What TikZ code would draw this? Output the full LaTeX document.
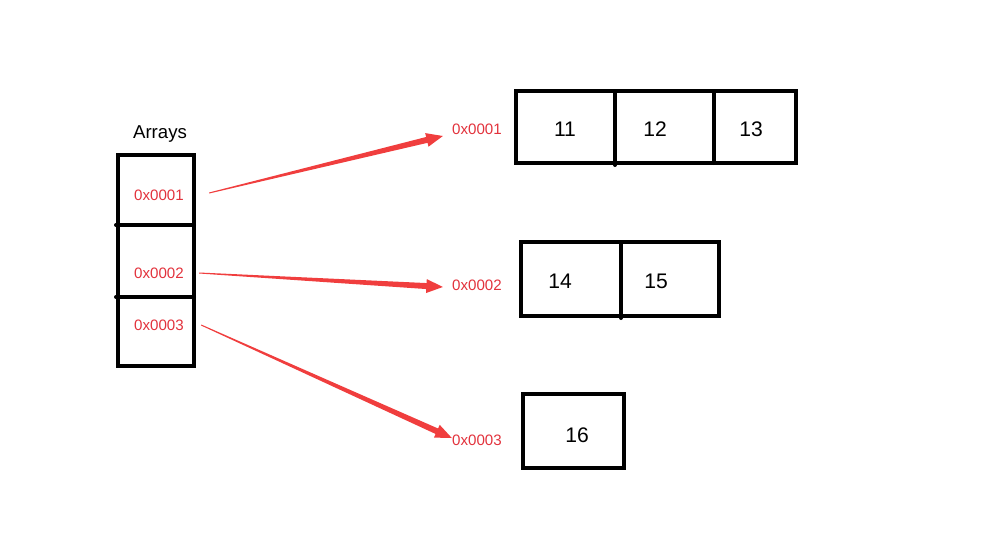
\documentclass[tikz,border=0pt]{standalone}
\usepackage{fontspec}
\setmainfont{Liberation Sans}
\usetikzlibrary{calc}
\definecolor{ptrred}{RGB}{240,62,62}
\definecolor{addrred}{RGB}{226,50,60}
\tikzset{
  box/.style={line width=0.08cm, line cap=round},
  addr/.style={text=addrred, font=\fontsize{8.6}{10}\selectfont, inner sep=0pt},
  val/.style={font=\fontsize{12}{14}\selectfont, inner sep=0pt}
}
% tapered arrow from #1 to #2
\def\taperarrow(#1)(#2){
  \coordinate (h) at ($(#2)!0.33cm!(#1)$);
  \fill[ptrred] ($(#1)!0.01cm!90:(#2)$) -- ($(h)!0.06cm!90:(#2)$) -- ($(h)!0.14cm!90:(#2)$) -- (#2)
     -- ($(h)!0.14cm!-90:(#2)$) -- ($(h)!0.06cm!-90:(#2)$) -- ($(#1)!0.01cm!-90:(#2)$) -- cycle;
}

\begin{document}
\begin{tikzpicture}[x=0.02cm, y=-0.02cm]
  \useasboundingbox (0,0) rectangle (983,544);

  %%%%% pointer array %%%%%
  \node[font=\fontsize{10.6}{12}\selectfont] (title) at (160,134) {Arrays};
  \draw[box] (118,155) rectangle (194,366);
  \draw[box] (116,225) -- (194,225);
  \draw[box] (116,297) -- (194,297);
  \node[addr] (p1) at (159,195) {0x0001};
  \node[addr] (p2) at (159,273) {0x0002};
  \node[addr] (p3) at (159,325) {0x0003};

  %%%%% target arrays %%%%%
  \node[addr] (q1) at (477,129) {0x0001};
  \node[addr] (q2) at (477,285) {0x0002};
  \node[addr] (q3) at (477,440) {0x0003};

  \draw[box] (516,91) rectangle (796,163);
  \draw[box] (615,91) -- (615,165);
  \draw[box] (714,91) -- (714,163);
  \node[val] (v11) at (565,129) {11};
  \node[val] (v12) at (655,129) {12};
  \node[val] (v13) at (751,129) {13};

  \draw[box] (521,242) rectangle (719,316);
  \draw[box] (621,242) -- (621,318);
  \node[val] (v14) at (560,281) {14};
  \node[val] (v15) at (656,281) {15};

  \draw[box] (523,394) rectangle (624,468);
  \node[val] (v16) at (577,435) {16};

  %%%%% pointers %%%%%
  \coordinate (s1) at ($(p1.east)+(25,-2)$);
  \coordinate (s2) at ($(p2.east)+(15,0)$);
  \coordinate (s3) at ($(p3.east)+(17,0)$);
  \coordinate (e1) at ($(q1.west)+(-9,7)$);
  \coordinate (e2) at ($(q2.west)+(-9,2)$);
  \coordinate (e3) at ($(q3.west)+(0,-2)$);
  \taperarrow(s1)(e1)
  \taperarrow(s2)(e2)
  \taperarrow(s3)(e3)
\end{tikzpicture}
\end{document}
